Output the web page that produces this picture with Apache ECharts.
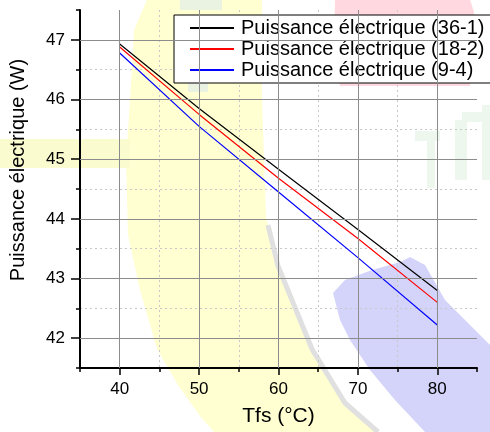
<!DOCTYPE html>
<html>
<head>
<meta charset="utf-8">
<script src="https://cdn.jsdelivr.net/npm/echarts@6/dist/echarts.min.js"></script>
<style>html,body{margin:0;padding:0;background:#fff}#c{width:490px;height:432px}</style>
</head>
<body>
<div id="c"></div>
<script>
// ---- data ----
const xValues = [40, 50, 60, 70, 80];
const seriesNames = ['Puissance électrique (36-1)', 'Puissance électrique (18-2)', 'Puissance électrique (9-4)'];
const power36_1 = [46.93, 45.85, 44.83, 43.82, 42.80];
const power18_2 = [46.88, 45.75, 44.68, 43.67, 42.60];
const power9_4  = [46.78, 45.55, 44.45, 43.35, 42.22];
const xMajorTicks = [40, 50, 60, 70, 80];
const yMajorTicks = [42, 43, 44, 45, 46, 47];

const FONT = 'Liberation Sans, Arial, sans-serif';
const pair = (xs, ys) => xs.map((x, i) => [x, ys[i]]);

const chart = echarts.init(document.getElementById('c'));
const minorColor = '#c8c8c8';
const xSplitColors = ['rgba(0,0,0,0)', minorColor, minorColor, minorColor, minorColor, minorColor, minorColor, minorColor, minorColor, minorColor, 'rgba(0,0,0,0)'];
const ySplitColors = ['rgba(0,0,0,0)'].concat(new Array(11).fill(minorColor)).concat(['rgba(0,0,0,0)']);

const green = '#eef7ee';
const deco = [
  // pink patch top right
  {type:'polygon', z:-100, silent:true, shape:{points:[[335,0],[470,0],[474,12],[470,86],[340,86],[334,55]]}, style:{fill:'#ffd8e0'}},
  // big yellow arc
  {type:'polygon', z:-100, silent:true, shape:{points:[[147,0],[262,0],[262,100],[266,216],[278,266],[312,349],[345,403],[378,432],[214,432],[200,416],[178,385],[157,349],[140,290],[128,235],[126,160],[130,100],[134,30]]}, style:{fill:'#ffffd2'}},
  // yellow left band
  {type:'rect', z:-100, silent:true, shape:{x:0, y:139, width:130, height:29}, style:{fill:'#fbfbd0'}},
  // gray edge of the arc
  {type:'polyline', z:-99, silent:true, shape:{points:[[268,225],[278,266],[312,349],[345,403],[378,432]]}, style:{stroke:'#e0e0e0', lineWidth:5, fill:null}},
  // blue patch lower right
  {type:'polygon', z:-100, silent:true, shape:{points:[[333,293],[345,280],[372,270],[400,262],[410,257],[425,265],[445,300],[470,325],[490,345],[490,432],[425,432],[395,400],[370,370],[350,340],[340,320]]}, style:{fill:'#d4d4fa'}},
  // faint green marks
  {type:'rect', z:-100, silent:true, shape:{x:415, y:131, width:25, height:10}, style:{fill:green}},
  {type:'rect', z:-100, silent:true, shape:{x:427, y:138, width:8, height:50}, style:{fill:green}},
  {type:'rect', z:-100, silent:true, shape:{x:455, y:120, width:12, height:60}, style:{fill:green}},
  {type:'rect', z:-100, silent:true, shape:{x:462, y:112, width:20, height:10}, style:{fill:green}},
  {type:'rect', z:-100, silent:true, shape:{x:482, y:105, width:8, height:75}, style:{fill:green}},
  {type:'rect', z:-100, silent:true, shape:{x:180, y:0, width:42, height:10}, style:{fill:'#eaf3e2'}},
  {type:'rect', z:-100, silent:true, shape:{x:188, y:80, width:20, height:12}, style:{fill:'#eaf3e2'}}
];

const option = {
  animation: false,
  backgroundColor: '#ffffff',
  graphic: deco,
  grid: {left: 79, right: 13, top: 10, bottom: 62, containLabel: false},
  legend: {
    orient: 'vertical', left: 174, top: 15,
    padding: [3, 12, 3, 16],
    backgroundColor: '#ffffff', borderColor: '#000', borderWidth: 1,
    itemWidth: 44, itemHeight: 2, itemGap: 1,
    icon: 'rect',
    textStyle: {fontFamily: FONT, fontSize: 20, color: '#000', lineHeight: 20, padding: [0, 0, 0, 2]},
    data: seriesNames
  },
  xAxis: [{
    type: 'value', min: 35, max: 85, interval: 5, position: 'bottom',
    name: 'Tfs (°C)', nameLocation: 'middle', nameGap: 38,
    nameTextStyle: {fontFamily: FONT, fontSize: 21, color: '#000'},
    axisLine: {show: true, onZero: false, lineStyle: {color: '#000', width: 2}},
    axisTick: {show: true, length: 4, lineStyle: {color: '#000', width: 1.5}},
    axisLabel: {fontFamily: FONT, fontSize: 17, color: '#000', margin: 13,
      formatter: v => (xMajorTicks.indexOf(v) >= 0 ? String(v) : '')},
    splitLine: {show: true, lineStyle: {color: xSplitColors, type: [2, 3], width: 1}}
  }, {
    type: 'value', min: 35, max: 85, position: 'bottom',
    axisLine: {show: false}, axisLabel: {show: false}, splitLine: {show: false},
    axisTick: {show: true, length: 7, customValues: xMajorTicks, lineStyle: {color: '#000', width: 1.5}}
  }],
  yAxis: [{
    type: 'value', min: 41.5, max: 47.5, interval: 0.5, position: 'left',
    name: 'Puissance électrique (W)', nameLocation: 'middle', nameGap: 52,
    nameTextStyle: {fontFamily: FONT, fontSize: 20, color: '#000', padding: [0, 0, 0, 38]},
    axisLine: {show: true, onZero: false, lineStyle: {color: '#000', width: 2}},
    axisTick: {show: true, length: 4, lineStyle: {color: '#000', width: 1.5}},
    axisLabel: {fontFamily: FONT, fontSize: 17, color: '#000', margin: 15,
      formatter: v => (yMajorTicks.indexOf(v) >= 0 ? String(v) : '')},
    splitLine: {show: true, lineStyle: {color: ySplitColors, type: [2, 3], width: 1}}
  }, {
    type: 'value', min: 41.5, max: 47.5, position: 'left',
    axisLine: {show: false}, axisLabel: {show: false}, splitLine: {show: false},
    axisTick: {show: true, length: 9, customValues: yMajorTicks, lineStyle: {color: '#000', width: 1.5}}
  }],
  series: [
    {
      type: 'line', name: '_grid', data: [], z: 1, silent: true,
      markLine: {
        silent: true, symbol: ['none', 'none'], label: {show: false}, animation: false,
        lineStyle: {color: '#8c8c8c', type: 'solid', width: 1},
        emphasis: {disabled: true},
        data: xMajorTicks.map(v => ({xAxis: v})).concat(yMajorTicks.map(v => ({yAxis: v})))
      }
    },
    {type: 'line', name: seriesNames[0], data: pair(xValues, power36_1), showSymbol: false, symbol: 'none',
      itemStyle: {color: '#000000'}, lineStyle: {color: '#000000', width: 1.2}, z: 3},
    {type: 'line', name: seriesNames[1], data: pair(xValues, power18_2), showSymbol: false, symbol: 'none',
      itemStyle: {color: '#ff0000'}, lineStyle: {color: '#ff0000', width: 1.2}, z: 3},
    {type: 'line', name: seriesNames[2], data: pair(xValues, power9_4), showSymbol: false, symbol: 'none',
      itemStyle: {color: '#0000ff'}, lineStyle: {color: '#0000ff', width: 1.2}, z: 3}
  ]
};
chart.setOption(option);
</script>
</body>
</html>
